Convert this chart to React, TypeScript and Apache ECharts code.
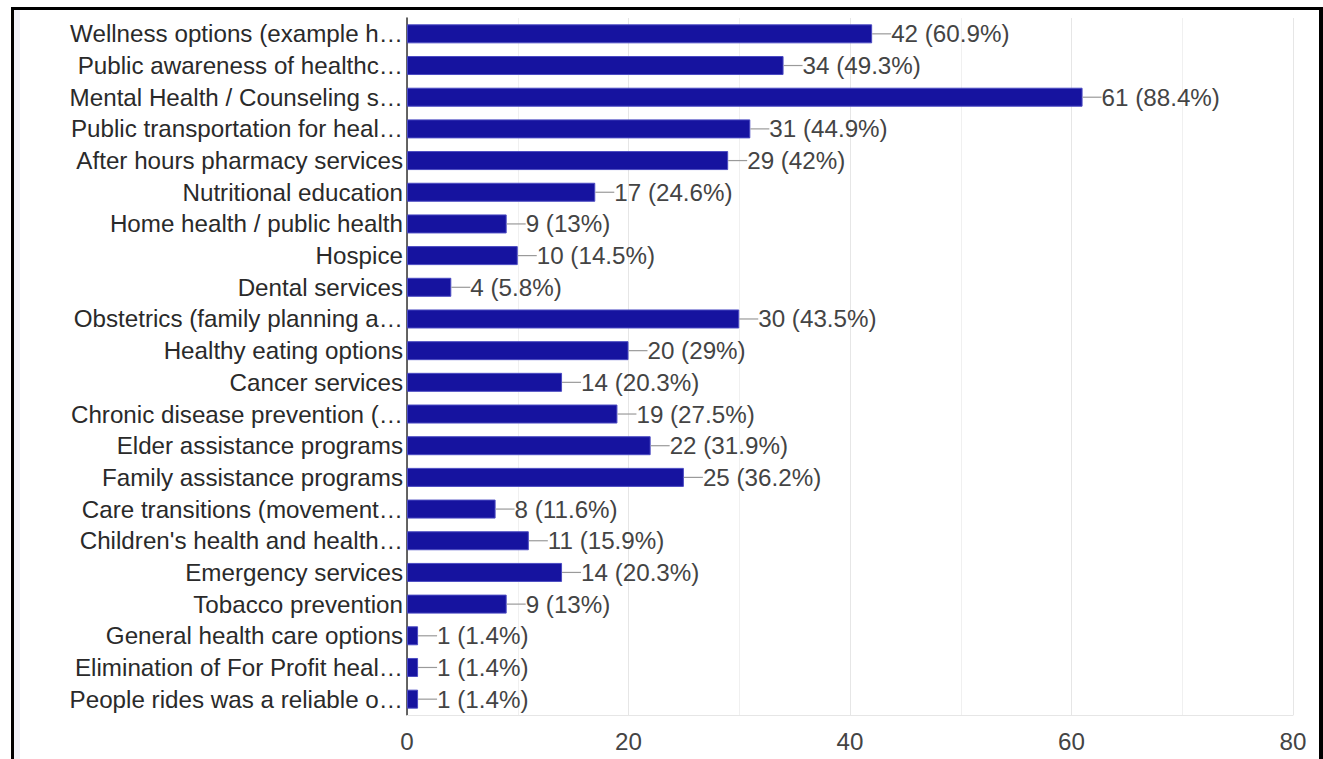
import React, { useEffect, useRef } from "react";
import * as echarts from "echarts";

const categories: string[] = [
  "Wellness options (example h…",
  "Public awareness of healthc…",
  "Mental Health / Counseling s…",
  "Public transportation for heal…",
  "After hours pharmacy services",
  "Nutritional education",
  "Home health / public health",
  "Hospice",
  "Dental services",
  "Obstetrics (family planning a…",
  "Healthy eating options",
  "Cancer services",
  "Chronic disease prevention (…",
  "Elder assistance programs",
  "Family assistance programs",
  "Care transitions (movement…",
  "Children's health and health…",
  "Emergency services",
  "Tobacco prevention",
  "General health care options",
  "Elimination of For Profit heal…",
  "People rides was a reliable o…",
];

const counts: number[] = [42, 34, 61, 31, 29, 17, 9, 10, 4, 30, 20, 14, 19, 22, 25, 8, 11, 14, 9, 1, 1, 1];

const percents: string[] = [
  "60.9%", "49.3%", "88.4%", "44.9%", "42%", "24.6%", "13%", "14.5%", "5.8%", "43.5%", "29%",
  "20.3%", "27.5%", "31.9%", "36.2%", "11.6%", "15.9%", "20.3%", "13%", "1.4%", "1.4%", "1.4%",
];

const xTicks = { min: 0, max: 80, interval: 20 };

const FONT = '"Liberation Sans", Arial, sans-serif';
const FS = 24.2;

export default function App() {
  const ref = useRef<HTMLDivElement>(null);

  useEffect(() => {
    if (!ref.current) return;
    const chart = echarts.init(ref.current, undefined, { renderer: "svg" });
    const labelData = counts.map((v, i) => [v, i, `${v} (${percents[i]})`]);
    chart.setOption({
      animation: false,
      backgroundColor: "#ffffff",
      textStyle: { fontFamily: FONT },
      grid: { left: 407, right: 30, top: 18, bottom: 44, containLabel: false },
      xAxis: {
        type: "value",
        min: xTicks.min,
        max: xTicks.max,
        interval: xTicks.interval,
        axisLine: { show: true, lineStyle: { color: "#e6e6e6", width: 1 } },
        axisTick: { show: false },
        minorTick: { show: false, splitNumber: 2 },
        splitLine: { show: true, lineStyle: { color: "#e6e6e6", width: 1 } },
        minorSplitLine: { show: true, lineStyle: { color: "#f0f0f0", width: 1 } },
        axisLabel: { color: "#444", fontSize: FS, fontFamily: FONT, margin: 14 },
      },
      yAxis: {
        type: "category",
        data: categories,
        inverse: true,
        axisLine: { show: true, onZero: false, lineStyle: { color: "#333", width: 1.5 } },
        axisTick: { show: false },
        splitLine: { show: false },
        axisLabel: { color: "#2a2a2a", fontSize: FS, fontFamily: FONT, margin: 4 },
      },
      series: [
        {
          type: "bar",
          data: counts,
          barWidth: 19,
          itemStyle: { color: "#16139f", borderColor: "#4b4bc2", borderWidth: 1 },
          label: { show: false },
          z: 2,
        },
        {
          type: "custom",
          data: labelData,
          encode: { x: 0, y: 1 },
          z: 3,
          renderItem: (params: any, api: any) => {
            const v = api.value(0);
            const idx = api.value(1);
            const p = api.coord([v, idx]);
            const text = labelData[params.dataIndex][2] as string;
            return {
              type: "group",
              children: [
                {
                  type: "line",
                  shape: { x1: p[0], y1: p[1], x2: p[0] + 19, y2: p[1] },
                  style: { stroke: "#9a9a9a", lineWidth: 1.2 },
                },
                {
                  type: "text",
                  x: p[0] + 19,
                  y: p[1],
                  style: {
                    text,
                    fill: "#444",
                    font: `${FS}px ${FONT}`,
                    align: "left",
                    verticalAlign: "middle",
                  },
                },
              ],
            };
          },
        },
      ],
      graphic: [
        { type: "rect", shape: { x: 14, y: 10, width: 6, height: 760 }, style: { fill: "#f0f1f8" }, silent: true },
        { type: "rect", shape: { x: 11, y: 7, width: 3, height: 760 }, style: { fill: "#000" }, silent: true },
        { type: "rect", shape: { x: 11, y: 7, width: 1312, height: 3 }, style: { fill: "#000" }, silent: true },
        { type: "rect", shape: { x: 1319, y: 7, width: 4, height: 760 }, style: { fill: "#000" }, silent: true },
      ],
    });
    return () => chart.dispose();
  }, []);

  return (
    <div
      ref={ref}
      style={{ position: "fixed", left: 0, top: 0, width: 1323, height: 759, background: "#fff" }}
    />
  );
}
